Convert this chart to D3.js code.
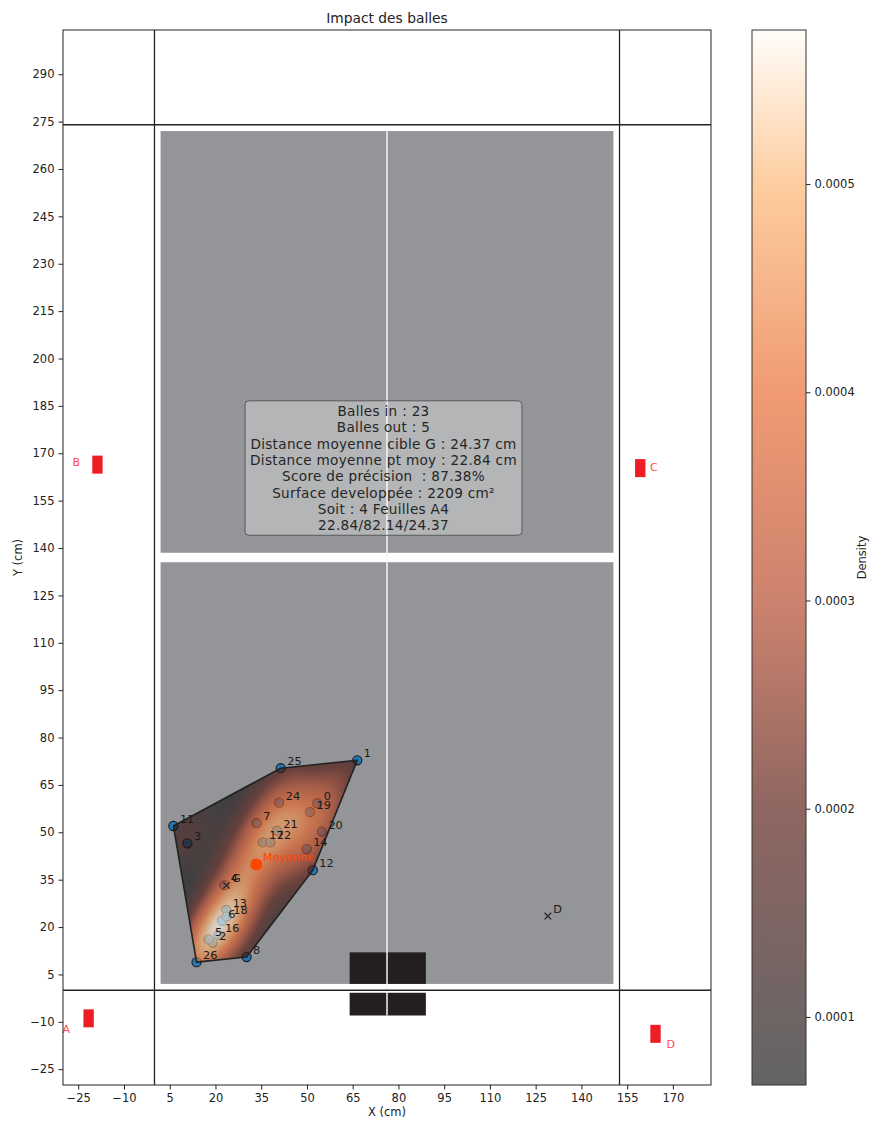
<!DOCTYPE html>
<html><head><meta charset="utf-8">
<script src="https://cdn.jsdelivr.net/npm/d3@7"></script>
<style>body{margin:0;background:#fff} text{font-family:"DejaVu Sans",sans-serif}</style>
</head><body><svg id="chart" width="872" height="1122"></svg>
<script>
// ---------- data ----------
const ballIds = [0,1,2,3,4,5,6,7,8,11,12,13,14,16,17,18,19,20,21,22,24,25,26];
const ballX = [53.4,66.5,19.1,10.8,22.9,17.7,22.1,33.5,30.2,6.2,51.9,23.5,49.9,21.0,35.5,23.7,51.0,54.9,40.1,38.0,40.9,41.4,13.8];
const ballY = [59.2,72.8,15.0,46.5,33.3,16.1,22.0,52.9,10.5,52.0,38.0,25.4,44.7,17.5,46.8,23.3,56.4,50.2,50.5,46.8,59.4,70.3,8.9];
const targetNames = ["G","D"];
const targetX = [23.6,129.0];
const targetY = [33.2,23.5];
const meanX = [33.4];
const meanY = [39.8];
const sensorNames = ["A","B","C","D"];
const sensorX = [-21.6,-18.7,159.3,164.3];
const sensorY = [-8.9,166.4,165.3,-13.8];
const sensorLabelX = [-30.2,-26.9,162.5,167.9];
const sensorLabelY = [-13.5,165.9,164.5,-18.2];
const xTicks = d3.range(-25,171,15);
const yTicks = d3.range(-25,291,15);
const densityRange = [0.0000673,0.000574];
const cbTicks = [0.0001,0.0002,0.0003,0.0004,0.0005];
const statsLines = ["Balles in : 23","Balles out : 5","Distance moyenne cible G : 24.37 cm","Distance moyenne pt moy : 22.84 cm","Score de précision  : 87.38%","Surface developpée : 2209 cm²","Soit : 4 Feuilles A4","22.84/82.14/24.37"];

// ---------- setup ----------
const svg = d3.select("#chart");
const L=63,R=711,T=30,B=1085;
const x = d3.scaleLinear([-30,182.5],[L,R]);
const y = d3.scaleLinear([-30,304],[B,T]);
const tableW=152.5, tableL=274;

svg.append("defs").append("clipPath").attr("id","plotclip")
  .append("rect").attr("x",L).attr("y",T).attr("width",R-L).attr("height",B-T);
const plot = svg.append("g").attr("clip-path","url(#plotclip)");

const grey="#939598";
function rectD(g,x0,x1,y0,y1,fill){
  return g.append("rect").attr("x",x(x0)).attr("y",y(y1)).attr("width",x(x1)-x(x0)).attr("height",y(y0)-y(y1)).attr("fill",fill);
}
rectD(plot,2,tableW-2,2,tableL/2-1.5,grey);
rectD(plot,2,tableW-2,tableL/2+1.5,tableL-2,grey);
rectD(plot,64,89,2,12,"#231f20");
rectD(plot,64,89,-8,-0.8,"#231f20");
plot.append("line").attr("x1",x(tableW/2)).attr("x2",x(tableW/2)).attr("y1",y(-8)).attr("y2",y(tableL-2))
  .attr("stroke","#f4f4f4").attr("stroke-width",1.5);
[0,tableW].forEach(v=>plot.append("line").attr("x1",x(v)).attr("x2",x(v)).attr("y1",T).attr("y2",B).attr("stroke","#222").attr("stroke-width",1.3));
[0,tableL].forEach(v=>plot.append("line").attr("y1",y(v)).attr("y2",y(v)).attr("x1",L).attr("x2",R).attr("stroke","#222").attr("stroke-width",1.3));

// sensors
sensorNames.forEach((n,i)=>{
  const w=3.4,h=5.7;
  rectD(plot,sensorX[i]-w/2,sensorX[i]+w/2,sensorY[i]-h/2,sensorY[i]+h/2,"#ee1c25");
});
svg.selectAll(".slab").data(sensorNames).join("text").attr("class","slab")
  .attr("x",(d,i)=>x(sensorLabelX[i])).attr("y",(d,i)=>y(sensorLabelY[i]))
  .attr("fill","#ff4b4b").attr("font-size",11).text(d=>d);

// stats box
const boxG = svg.append("g");
const cx = x(75.1), cy = y(165.2), lh=16.35;
const tt = boxG.append("text").attr("font-size",13.6).attr("letter-spacing",0.3).attr("fill","#262626").attr("text-anchor","middle").style("white-space","pre");
statsLines.forEach((s,i)=>tt.append("tspan").attr("x",cx).attr("y",cy-3.5*lh+4.6+i*lh).text(s));
const bb = tt.node().getBBox();
boxG.insert("rect","text").attr("x",bb.x-5).attr("y",bb.y-2).attr("width",bb.width+10).attr("height",bb.height+4)
  .attr("rx",4).attr("fill","#ffffff").attr("fill-opacity",0.3).attr("stroke","#5a5a5a").attr("stroke-width",1);

// balls
const pts = ballIds.map((id,i)=>({id,x:ballX[i],y:ballY[i]}));
plot.selectAll(".ball").data(pts).join("circle").attr("class","ball")
  .attr("cx",d=>x(d.x)).attr("cy",d=>y(d.y)).attr("r",4.6)
  .attr("fill","#1f77b4").attr("stroke","#1a1a1a").attr("stroke-width",1.1);

// KDE
const n=pts.length;
const mx=d3.mean(pts,d=>d.x), my=d3.mean(pts,d=>d.y);
let sxx=0,syy=0,sxy=0;
pts.forEach(p=>{sxx+=(p.x-mx)**2;syy+=(p.y-my)**2;sxy+=(p.x-mx)*(p.y-my);});
sxx/=(n-1);syy/=(n-1);sxy/=(n-1);
const f2=Math.pow(n,-1/3);
const kxx=sxx*f2,kyy=syy*f2,kxy=sxy*f2;
const det=kxx*kyy-kxy*kxy;
const ixx=kyy/det, iyy=kxx/det, ixy=-kxy/det;
const norm=1/(2*Math.PI*Math.sqrt(det)*n);
function dens(px,py){let s=0;for(const p of pts){const dx=px-p.x,dy=py-p.y;s+=Math.exp(-0.5*(ixx*dx*dx+2*ixy*dx*dy+iyy*dy*dy));}return s*norm;}

const cmapT=[0,0.065,0.262,0.459,0.657,0.854,1];
const cmapC=["rgb(16,16,16)","rgb(32,17,17)","rgb(82,20,12)","rgb(178,63,32)","rgb(232,101,40)","rgb(252,178,109)","rgb(255,252,247)"];
const cmap=d3.scaleLinear().domain(cmapT).range(cmapC).interpolate(d3.interpolateRgb).clamp(true);
const tScale=d3.scaleLinear().domain(densityRange).range([0,1]).clamp(true);
const alpha=0.65;

const xs=d3.extent(pts,d=>d.x), ys=d3.extent(pts,d=>d.y);
const gx0=xs[0]-1,gx1=xs[1]+1,gy0=ys[0]-1,gy1=ys[1]+1, res=0.25;
const W=Math.round((gx1-gx0)/res), H=Math.round((gy1-gy0)/res);
const cv=document.createElement("canvas");cv.width=W;cv.height=H;
const ctx=cv.getContext("2d");const img=ctx.createImageData(W,H);
for(let j=0;j<H;j++){for(let i=0;i<W;i++){
  const v=dens(gx0+(i+0.5)*res, gy1-(j+0.5)*res);
  const c=d3.rgb(cmap(tScale(v)));const k=4*(j*W+i);
  img.data[k]=c.r;img.data[k+1]=c.g;img.data[k+2]=c.b;img.data[k+3]=255;}}
ctx.putImageData(img,0,0);

const hull=d3.polygonHull(pts.map(p=>[x(p.x),y(p.y)]));
svg.select("defs").append("clipPath").attr("id","hullclip").append("path").attr("d","M"+hull.join("L")+"Z");
plot.append("image").attr("href",cv.toDataURL()).attr("x",x(gx0)).attr("y",y(gy1))
  .attr("width",x(gx1)-x(gx0)).attr("height",y(gy0)-y(gy1)).attr("preserveAspectRatio","none")
  .attr("opacity",alpha).attr("clip-path","url(#hullclip)");
plot.append("path").attr("d","M"+hull.join("L")+"Z").attr("fill","none").attr("stroke","#222").attr("stroke-width",1.6).attr("stroke-linejoin","round");

// ball labels
plot.selectAll(".blab").data(pts).join("text").attr("class","blab")
  .attr("x",d=>x(d.x)+6.5).attr("y",d=>y(d.y)-3).attr("font-size",11.3).attr("fill","#1a1a1a").text(d=>d.id);

// targets
targetNames.forEach((nm,i)=>{
  const px=x(targetX[i]),py=y(targetY[i]),s=3.3;
  plot.append("path").attr("d",`M${px-s},${py-s}L${px+s},${py+s}M${px-s},${py+s}L${px+s},${py-s}`).attr("stroke","#222").attr("stroke-width",1.2);
  plot.append("text").attr("x",px+5.5).attr("y",py-3.5).attr("font-size",11.3).attr("fill","#1a1a1a").text(nm);
});

// mean
plot.selectAll(".mean").data(meanX).join("circle").attr("cx",d=>x(d)).attr("cy",(d,i)=>y(meanY[i])).attr("r",6).attr("fill","#ff4500");
plot.selectAll(".meanl").data(meanX).join("text").attr("x",d=>x(d)+6.5).attr("y",(d,i)=>y(meanY[i])-3.5)
  .attr("font-size",11.3).attr("fill","#ff4500").text("Moyenne");

// axes
svg.append("rect").attr("x",L).attr("y",T).attr("width",R-L).attr("height",B-T).attr("fill","none").attr("stroke","#222").attr("stroke-width",1);
const xa=svg.append("g").attr("transform",`translate(0,${B})`).call(d3.axisBottom(x).tickValues(xTicks).tickSize(4.5).tickPadding(4).tickFormat(d=>d<0?"\u2212"+(-d):d));
const ya=svg.append("g").attr("transform",`translate(${L},0)`).call(d3.axisLeft(y).tickValues(yTicks).tickSize(4.5).tickPadding(4).tickFormat(d=>d<0?"\u2212"+(-d):d));
[xa,ya].forEach(a=>{a.select(".domain").remove();a.selectAll("text").attr("font-size",11.5).attr("fill","#222").attr("font-family","DejaVu Sans");a.selectAll("line").attr("stroke","#222");});
svg.append("text").attr("x",(L+R)/2).attr("y",1116).attr("text-anchor","middle").attr("font-size",11.5).attr("fill","#222").text("X (cm)");
svg.append("text").attr("transform",`translate(22,${(T+B)/2}) rotate(-90)`).attr("text-anchor","middle").attr("font-size",11.5).attr("fill","#222").text("Y (cm)");
svg.append("text").attr("x",(L+R)/2).attr("y",23).attr("text-anchor","middle").attr("font-size",13.8).attr("fill","#222").text("Impact des balles");

// colorbar
const CL=752,CR=806;
const cy2=d3.scaleLinear().domain(densityRange).range([B,T]);
const grad=svg.select("defs").append("linearGradient").attr("id","cbgrad").attr("x1",0).attr("x2",0).attr("y1",1).attr("y2",0);
cmapT.forEach((t,i)=>grad.append("stop").attr("offset",t).attr("stop-color",cmapC[i]));
svg.append("rect").attr("x",CL).attr("y",T).attr("width",CR-CL).attr("height",B-T).attr("fill","url(#cbgrad)").attr("opacity",alpha);
svg.append("rect").attr("x",CL).attr("y",T).attr("width",CR-CL).attr("height",B-T).attr("fill","none").attr("stroke","#333").attr("stroke-width",1);
const ca=svg.append("g").attr("transform",`translate(${CR},0)`).call(d3.axisRight(cy2).tickValues(cbTicks).tickSize(4.5).tickPadding(4).tickFormat(d3.format(".4f")));
ca.select(".domain").remove();ca.selectAll("text").attr("font-size",11.5).attr("fill","#222").attr("font-family","DejaVu Sans");ca.selectAll("line").attr("stroke","#222");
svg.append("text").attr("transform",`translate(866,${(T+B)/2}) rotate(-90)`).attr("text-anchor","middle").attr("font-size",11.5).attr("fill","#222").text("Density");
</script></body></html>
